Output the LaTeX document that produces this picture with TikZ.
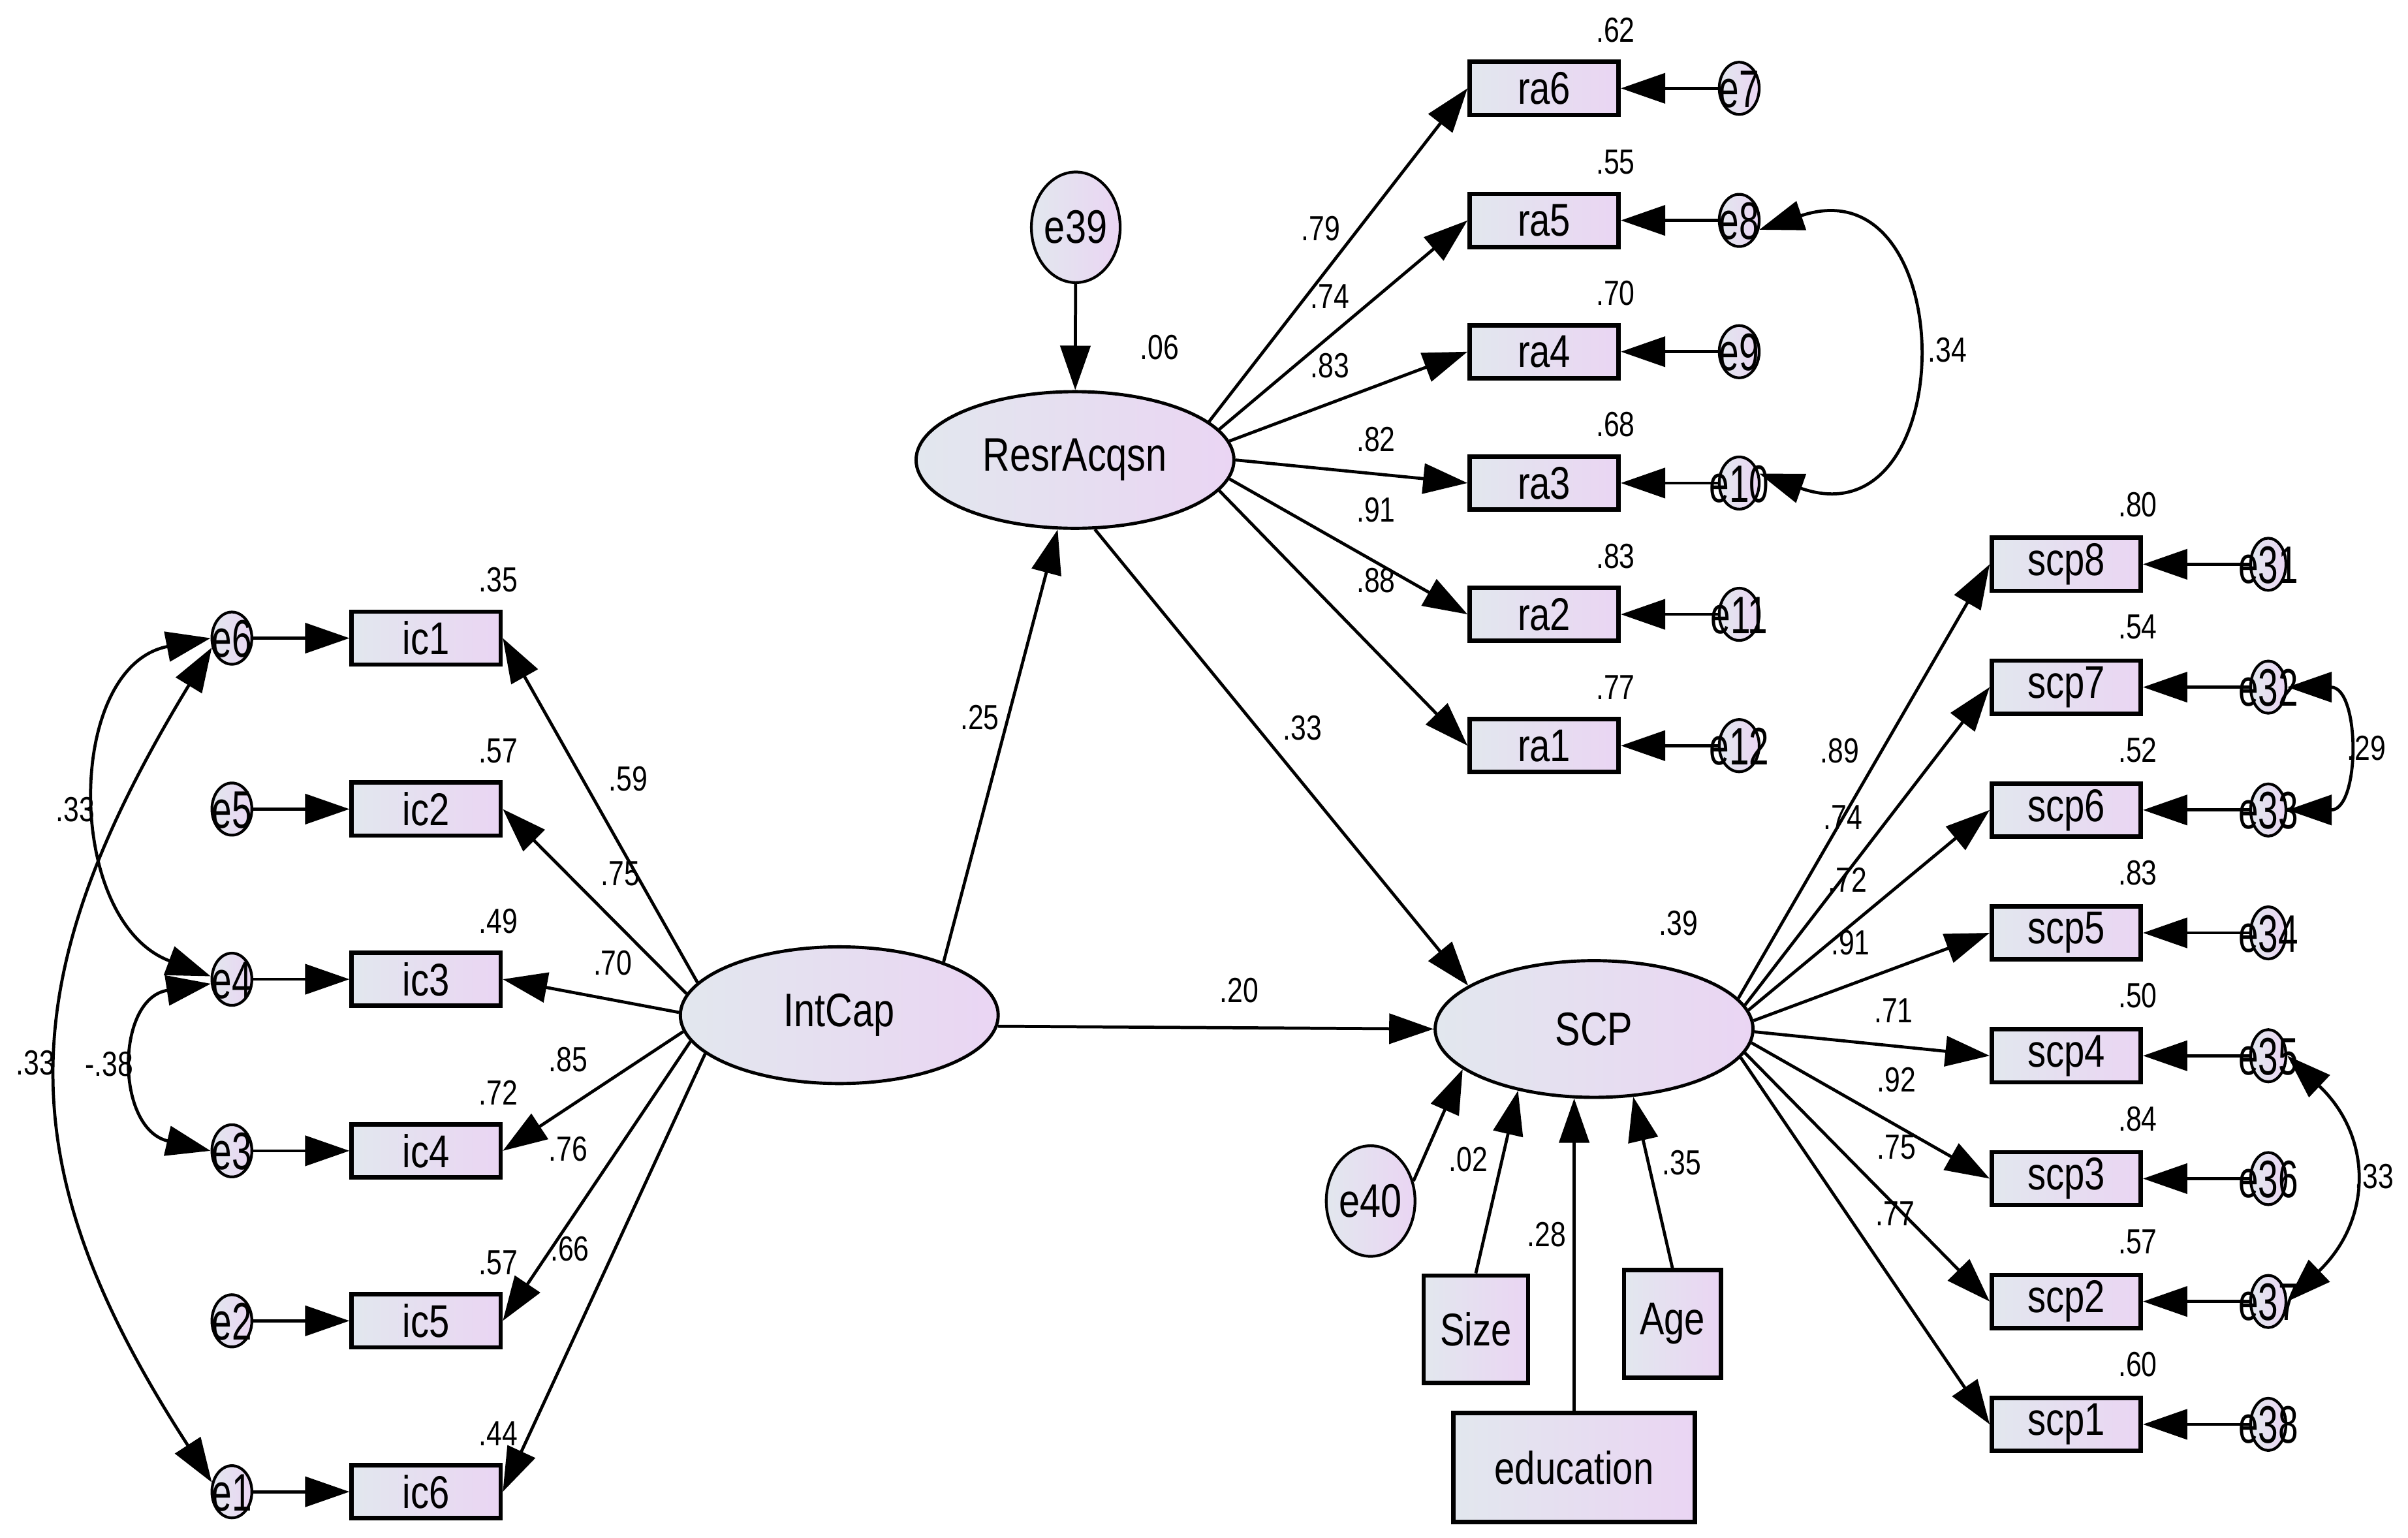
\documentclass[tikz,border=0pt]{standalone}
\usepackage{fontspec}
\usepackage{graphicx}
\setmainfont{Liberation Sans}[FakeStretch=0.8]
\usetikzlibrary{shapes.geometric,arrows.meta}
\definecolor{cl}{RGB}{226,231,238}
\definecolor{cr}{RGB}{234,213,243}
\newcommand{\etxt}[1]{\raisebox{-0.36em}[0pt][0pt]{\makebox[0pt]{\scalebox{0.85}[1]{#1}}}}
\begin{document}
\begin{tikzpicture}[x=0.023527cm, y=-0.023527cm,
  obs/.style={rectangle, draw, line width=1.9pt, inner sep=0pt, minimum width=2.282cm, minimum height=0.812cm, left color=cl, right color=cr, font=\fontsize{20}{22}\selectfont},
  lat/.style={ellipse, draw, line width=1.4pt, inner sep=0pt, minimum width=4.87cm, minimum height=2.094cm, left color=cl, right color=cr, font=\fontsize{20.5}{22}\selectfont},
  res/.style={ellipse, draw, line width=1.2pt, inner sep=0pt, minimum width=1.294cm, minimum height=1.694cm, left color=cl, right color=cr, font=\fontsize{20.5}{22}\selectfont},
  err/.style={ellipse, draw, line width=1.2pt, inner sep=0pt, minimum width=0.612cm, minimum height=0.8cm, left color=cl, right color=cr, font=\fontsize{23}{24}\selectfont},
  errs/.style={err, minimum width=0.541cm},
  num/.style={inner sep=0pt, font=\fontsize{15.2}{16}\selectfont},
  arr/.style={line width=1.35pt, -{Triangle[length=0.68cm,width=0.46cm]}},
  cov/.style={line width=1.35pt, {Triangle[length=0.68cm,width=0.46cm]}-{Triangle[length=0.68cm,width=0.46cm]}}
]
\useasboundingbox (0,0) rectangle (1568,1001);

% ---------- latent variables ----------
\node[lat] (IntCap) at (546.5,661) {IntCap};
\node[lat] (Resr) at (700,299.5) {ResrAcqsn};
\node[lat] (SCP) at (1038,670) {SCP};
\node[res] (e39) at (700.5,148) {e39};
\node[res] (e40) at (892.5,782) {e40};

% ---------- controls ----------
\node[obs, minimum width=1.6cm, minimum height=1.647cm] (Size) at (961,865.5) {Size};
\node[obs, minimum width=1.482cm, minimum height=1.647cm] (Age) at (1089,862) {Age};
\node[obs, minimum width=3.694cm, minimum height=1.67cm] (edu) at (1025,955.5) {education};

% ---------- ic block ----------
\foreach \n/\e/\y in {1/6/415.5, 2/5/526.8, 3/4/637.6, 4/3/749.3, 5/2/860, 6/1/971.3}{
  \node[obs] (ic\n) at (277.5,\y) {ic\n};
  \node[err] (e\e) at (151,\y) {\etxt{e\e}};
  \draw[arr] (e\e) -- (ic\n);
}
% ---------- ra block ----------
\foreach \n/\e/\y in {6/7/57.5, 5/8/143.5, 4/9/229, 3/10/314.5, 2/11/400, 1/12/485.5}{
  \node[obs] (ra\n) at (1005.5,\y) {ra\n};
  \node[err] (e\e) at (1132.5,\y) {\etxt{e\e}};
  \draw[arr] (e\e) -- (ra\n);
}
% ---------- scp block ----------
\foreach \n/\e/\y in {8/31/367.4, 7/32/447.4, 6/33/527.4, 5/34/607.4, 4/35/687.4, 3/36/767.4, 2/37/847.4, 1/38/927.4}{
  \node[obs] (scp\n) at (1345.5,\y) {scp\n};
  \node[errs] (e\e) at (1477,\y) {\etxt{e\e}};
  \draw[arr] (e\e) -- (scp\n);
}

% ---------- loadings ----------
\draw[arr] (IntCap.167) -- (ic1.east);
\draw[arr] (IntCap.172) -- (ic2.east);
\draw[arr] (IntCap.179) -- (ic3.east);
\draw[arr] (IntCap.186) -- (ic4.east);
\draw[arr] (IntCap.190) -- (ic5.east);
\draw[arr] (IntCap.196) -- (ic6.east);

\draw[arr] (Resr.16) -- (ra6.west);
\draw[arr] (Resr.12) -- (ra5.west);
\draw[arr] (Resr.7) -- (ra4.west);
\draw[arr] (Resr.0) -- (ra3.west);
\draw[arr] (Resr.353) -- (ra2.west);
\draw[arr] (Resr.348) -- (ra1.west);

\draw[arr] (SCP.12.5) -- (scp8.west);
\draw[arr] (SCP.9.7) -- (scp7.west);
\draw[arr] (SCP.7) -- (scp6.west);
\draw[arr] (SCP.3) -- (scp5.west);
\draw[arr] (SCP.359) -- (scp4.west);
\draw[arr] (SCP.355.2) -- (scp3.west);
\draw[arr] (SCP.351.6) -- (scp2.west);
\draw[arr] (SCP.349.2) -- (scp1.west);

% ---------- structural paths ----------
\draw[arr] (IntCap.27) -- (Resr.256);
\draw[arr] (Resr.286) -- (SCP.161);
\draw[arr] (IntCap.356) -- (SCP.west);
\draw[arr] (e39) -- (Resr);
\draw[arr] (e40.25) -- (SCP.197);
\draw[arr] (Size.north) -- (SCP.219.5);
\draw[arr] (edu.north) -- (SCP.254);
\draw[arr] (Age.north) -- (SCP.300);

% ---------- covariances ----------
\draw[cov] (e6.west) .. controls (42,434) and (42,600) .. (e4.172);
\draw[cov] (e4.192) .. controls (75,650) and (75,735) .. (e3.west);
\draw[cov] (e6.205) .. controls (5,640) and (5,760) .. (e1.155);
\draw[cov] (e8.335) .. controls (1278,105) and (1278,355) .. (e10.25);
\draw[cov] (e32.east) .. controls (1537,447.4) and (1537,527.4) .. (e33.east);
\draw[cov] (e35.east) .. controls (1545,740) and (1545,794) .. (e37.east);

% ---------- labels ----------
\node[num] (r1) at (324.5,377.5) {.35};
\node[num] (r2) at (324.5,488.8) {.57};
\node[num] (r3) at (324.5,599.6) {.49};
\node[num] (r4) at (324.5,711.3) {.72};
\node[num] (r5) at (324.5,822) {.57};
\node[num] (r6) at (324.5,933.3) {.44};

\node[num] (r7) at (1052,19.5) {.62};
\node[num] (r8) at (1052,105.5) {.55};
\node[num] (r9) at (1052,191) {.70};
\node[num] (r10) at (1052,276.5) {.68};
\node[num] (r11) at (1052,362) {.83};
\node[num] (r12) at (1052,447.5) {.77};

\node[num] (r13) at (1392,328.4) {.80};
\node[num] (r14) at (1392,408.4) {.54};
\node[num] (r15) at (1392,488.4) {.52};
\node[num] (r16) at (1392,568.4) {.83};
\node[num] (r17) at (1392,648.4) {.50};
\node[num] (r18) at (1392,728.4) {.84};
\node[num] (r19) at (1392,808.4) {.57};
\node[num] (r20) at (1392,888.4) {.60};

\node[num] (l1) at (409,507) {.59};
\node[num] (l2) at (404,569) {.75};
\node[num] (l3) at (399,627) {.70};
\node[num] (l4) at (370,690) {.85};
\node[num] (l5) at (370,748) {.76};
\node[num] (l6) at (371,813) {.66};

\node[num] (l7) at (860,149) {.79};
\node[num] (l8) at (866,193) {.74};
\node[num] (l9) at (866,238) {.83};
\node[num] (l10) at (896,286) {.82};
\node[num] (l11) at (896,332) {.91};
\node[num] (l12) at (896,378) {.88};

\node[num] (l13) at (1198,489) {.89};
\node[num] (l14) at (1200,532) {.74};
\node[num] (l15) at (1203,573) {.72};
\node[num] (l16) at (1205,614) {.91};
\node[num] (l17) at (1233,658) {.71};
\node[num] (l18) at (1235,703) {.92};
\node[num] (l19) at (1235,747) {.75};
\node[num] (l20) at (1234,790) {.77};

\node[num] (s1) at (638,467) {.25};
\node[num] (s2) at (848,474) {.33};
\node[num] (s3) at (807,645) {.20};
\node[num] (s4) at (755,226) {.06};
\node[num] (s5) at (1093,601) {.39};
\node[num] (s6) at (956,755) {.02};
\node[num] (s7) at (1007,804) {.28};
\node[num] (s8) at (1095,757) {.35};

\node[num] (c1) at (1268,228) {.34};
\node[num] (c2) at (1541,487) {.29};
\node[num] (c3) at (1546,766) {.33};
\node[num] (c4) at (49,527) {.33};
\node[num] (c5) at (71,693) {-.38};
\node[num] (c6) at (23,692) {.33};
\end{tikzpicture}
\end{document}
